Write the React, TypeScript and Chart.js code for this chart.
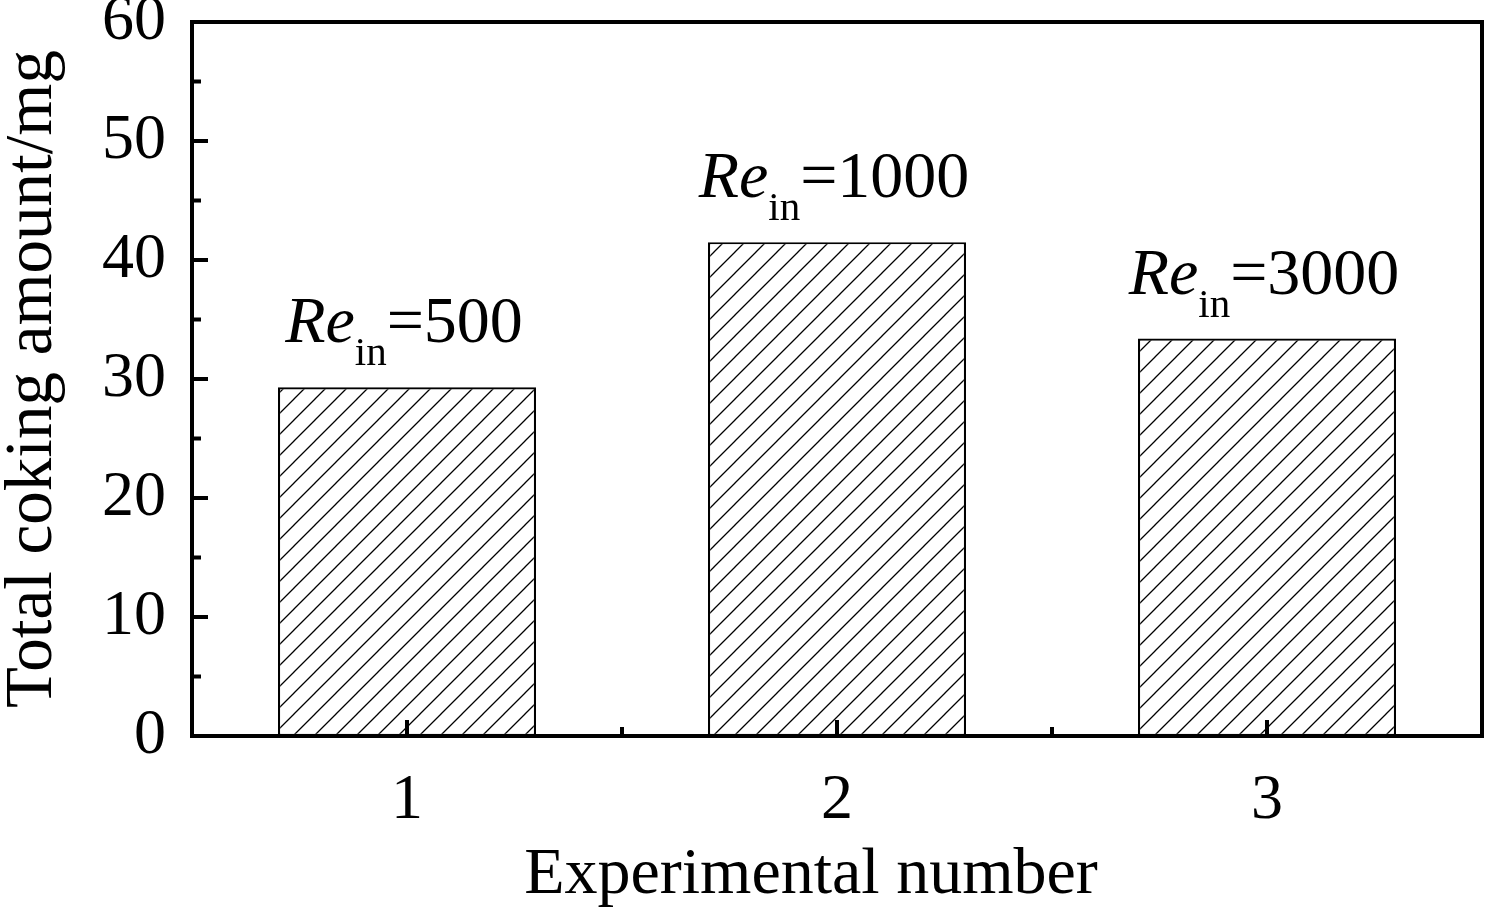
import React, { useEffect, useRef } from "react";
import { Chart, registerables, Plugin } from "chart.js";

Chart.register(...registerables);

const experiments = ["1", "2", "3"];
const cokingAmount = [29.3, 41.5, 33.4];
const reynolds = [500, 1000, 3000];
const yTicks = { min: 0, max: 60, step: 10 };
const xTitle = "Experimental number";

const FONT = "'Liberation Serif', 'Times New Roman', serif";

const makeHatch = (): CanvasPattern | string => {
  const size = 21;
  const c = document.createElement("canvas");
  c.width = size;
  c.height = size;
  const ctx = c.getContext("2d");
  if (!ctx) return "#fff";
  ctx.fillStyle = "#fff";
  ctx.fillRect(0, 0, size, size);
  ctx.strokeStyle = "#000";
  ctx.lineWidth = 1.3;
  ctx.beginPath();
  ctx.moveTo(-2, size + 2);
  ctx.lineTo(size + 2, -2);
  ctx.moveTo(-2, 2);
  ctx.lineTo(2, -2);
  ctx.moveTo(size - 2, size + 2);
  ctx.lineTo(size + 2, size - 2);
  ctx.stroke();
  return ctx.createPattern(c, "repeat") ?? "#fff";
};

// frame on top/right plus inward major/minor ticks, and the x title
const frameTicks: Plugin<"bar"> = {
  id: "frameTicks",
  afterDraw(chart) {
    const { ctx, chartArea: a, scales } = chart;
    const x = scales.x;
    const y = scales.y;
    ctx.save();
    ctx.strokeStyle = "#000";
    ctx.lineWidth = 4;
    ctx.lineCap = "square";
    ctx.beginPath();
    ctx.moveTo(a.left, a.top);
    ctx.lineTo(a.right, a.top);
    ctx.lineTo(a.right, a.bottom);
    ctx.stroke();

    ctx.lineCap = "butt";
    ctx.lineWidth = 4;
    ctx.beginPath();
    for (let v = yTicks.min; v <= yTicks.max; v += yTicks.step / 2) {
      const py = y.getPixelForValue(v);
      const len = v % yTicks.step === 0 ? 16 : 9;
      ctx.moveTo(a.left, py);
      ctx.lineTo(a.left + len, py);
    }
    for (let i = 0; i < experiments.length; i++) {
      const px = x.getPixelForValue(i);
      ctx.moveTo(px, a.bottom);
      ctx.lineTo(px, a.bottom - 16);
      if (i < experiments.length - 1) {
        const pm = x.getPixelForValue(i + 0.5);
        ctx.moveTo(pm, a.bottom);
        ctx.lineTo(pm, a.bottom - 9);
      }
    }
    ctx.stroke();

    // x axis title, sits a bit left of the plot centre in the original
    ctx.fillStyle = "#000";
    ctx.font = `66px ${FONT}`;
    ctx.textAlign = "center";
    ctx.textBaseline = "alphabetic";
    ctx.fillText(xTitle, (a.left + a.right) / 2 - 26, a.bottom + 157);
    ctx.restore();
  },
};

// "Re_in=xxx" labels above each bar
const reLabels: Plugin<"bar"> = {
  id: "reLabels",
  afterDatasetsDraw(chart) {
    const { ctx } = chart;
    const meta = chart.getDatasetMeta(0);
    ctx.save();
    ctx.fillStyle = "#000";
    ctx.textBaseline = "alphabetic";
    ctx.textAlign = "left";
    meta.data.forEach((bar, i) => {
      const main = `66px ${FONT}`;
      const ital = `italic 66px ${FONT}`;
      const sub = `41px ${FONT}`;
      const rest = `=${reynolds[i]}`;
      ctx.font = ital;
      const wRe = ctx.measureText("Re").width;
      ctx.font = sub;
      const wIn = ctx.measureText("in").width;
      ctx.font = main;
      const wRest = ctx.measureText(rest).width;
      const total = wRe + wIn + wRest;
      let px = bar.x - total / 2 - 3;
      const base = bar.y - 45;
      ctx.font = ital;
      ctx.fillText("Re", px, base);
      px += wRe;
      ctx.font = sub;
      ctx.fillText("in", px, base + 23);
      px += wIn;
      ctx.font = main;
      ctx.fillText(rest, px, base);
    });
    ctx.restore();
  },
};

const App: React.FC = () => {
  const chart = useRef<Chart<"bar">>();
  const canvas = useRef<HTMLCanvasElement>(null);

  useEffect(() => {
    chart.current = new Chart(canvas.current!.getContext("2d")!, {
      type: "bar",
      data: {
        labels: experiments,
        datasets: [
          {
            data: cokingAmount,
            backgroundColor: makeHatch(),
            borderColor: "#000",
            borderWidth: 2.2,
            borderSkipped: false,
            barPercentage: 0.6,
            categoryPercentage: 1,
          },
        ],
      },
      options: {
        responsive: true,
        maintainAspectRatio: false,
        animation: false,
        layout: { padding: { top: 22, right: 5, left: 0, bottom: 0 } },
        plugins: {
          legend: { display: false },
          tooltip: { enabled: false },
        },
        scales: {
          x: {
            offset: true,
            grid: { display: false, drawTicks: false },
            border: { display: true, color: "#000", width: 4 },
            ticks: {
              color: "#000",
              padding: 33,
              font: { family: FONT, size: 64, lineHeight: 1 },
            },
            title: { display: false },
            afterFit: scale => {
              scale.height = 172;
              scale.paddingLeft = 0;
              scale.paddingRight = 0;
            },
          },
          y: {
            min: yTicks.min,
            max: yTicks.max,
            grid: { display: false, drawTicks: false },
            border: { display: true, color: "#000", width: 4 },
            ticks: {
              stepSize: yTicks.step,
              color: "#000",
              padding: 26,
              font: { family: FONT, size: 64, lineHeight: 1 },
            },
            title: {
              display: true,
              text: "Total coking amount/mg",
              color: "#000",
              padding: { top: 0, bottom: 0 },
              font: { family: FONT, size: 67, lineHeight: 1 },
            },
            afterFit: scale => {
              scale.width = 192;
              scale.paddingTop = 0;
              scale.paddingBottom = 0;
            },
          },
        },
      },
      plugins: [frameTicks, reLabels],
    });

    return () => {
      chart.current?.destroy();
    };
  }, []);

  return (
    <div style={{ position: "absolute", left: 0, top: 0, width: 1487, height: 908, background: "#fff" }}>
      <canvas ref={canvas}></canvas>
    </div>
  );
};

export default App;
